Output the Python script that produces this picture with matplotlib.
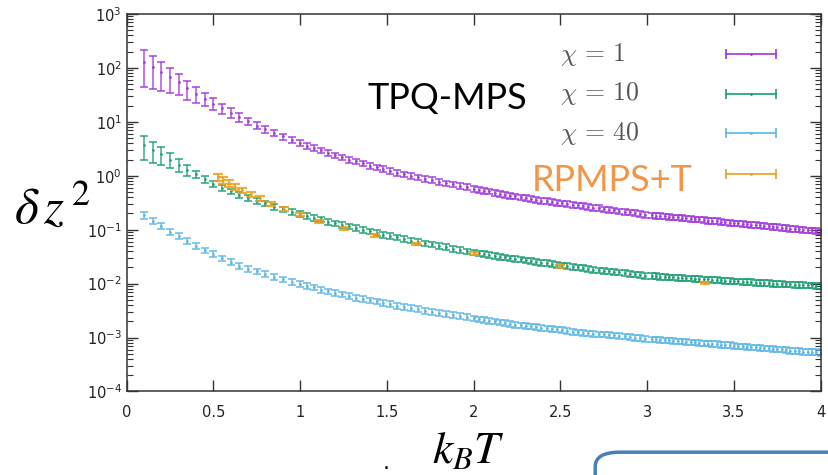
import numpy as np
import matplotlib
matplotlib.use("Agg")
import matplotlib.pyplot as plt
from matplotlib.patches import FancyBboxPatch
from matplotlib.ticker import LogLocator, NullFormatter

# temperature grid of the TPQ-MPS data (k_B T)
T = [0.10, 0.15, 0.20, 0.25, 0.30, 0.35, 0.40, 0.45, 0.50, 0.55, 0.60, 0.65, 0.70, 0.75, 0.80,
     0.85, 0.90, 0.95, 1.00,
     1.04, 1.08, 1.12, 1.16, 1.20, 1.24, 1.28, 1.32, 1.36, 1.40, 1.44, 1.48, 1.52, 1.56, 1.60,
     1.64, 1.68, 1.72, 1.76, 1.80, 1.84, 1.88, 1.92, 1.96, 2.00,
     2.03, 2.06, 2.09, 2.12, 2.15, 2.18, 2.21, 2.24, 2.27, 2.30, 2.33, 2.36, 2.39, 2.42, 2.45,
     2.48, 2.51, 2.54, 2.57, 2.60, 2.63, 2.66, 2.69, 2.72, 2.75, 2.78, 2.81, 2.84, 2.87, 2.90,
     2.93, 2.96, 2.99,
     3.025, 3.05, 3.075, 3.10, 3.125, 3.15, 3.175, 3.20, 3.225, 3.25, 3.275, 3.30, 3.325, 3.35,
     3.375, 3.40, 3.425, 3.45, 3.475, 3.50, 3.525, 3.55, 3.575, 3.60, 3.625, 3.65, 3.675, 3.70,
     3.725, 3.75, 3.775, 3.80, 3.825, 3.85, 3.875, 3.90, 3.925, 3.95, 3.975, 4.00]

# log10(delta z^2) for chi = 1, 10, 40
log_chi1 = [2.11, 2.01, 1.92, 1.83, 1.74, 1.62, 1.52, 1.43, 1.34, 1.25, 1.17, 1.09, 1.01, 0.93, 0.86,
            0.79, 0.73, 0.67, 0.61,
            0.56, 0.52, 0.47, 0.43, 0.38, 0.34, 0.30, 0.27, 0.23, 0.19, 0.16, 0.13, 0.09, 0.06, 0.03,
            0.00, -0.03, -0.06, -0.08, -0.11, -0.14, -0.16, -0.19, -0.21, -0.24,
            -0.26, -0.28, -0.29, -0.31, -0.33, -0.35, -0.37, -0.38, -0.40, -0.41, -0.43, -0.44, -0.46,
            -0.47, -0.48, -0.50, -0.51, -0.52, -0.54, -0.55, -0.56, -0.58, -0.59, -0.60, -0.62, -0.63,
            -0.64, -0.66, -0.67, -0.68, -0.69, -0.70, -0.72,
            -0.73, -0.74, -0.74, -0.75, -0.76, -0.77, -0.77, -0.78, -0.79, -0.80, -0.81, -0.81, -0.82,
            -0.83, -0.84, -0.84, -0.85, -0.86, -0.87, -0.88, -0.88, -0.89, -0.90, -0.91, -0.91, -0.92,
            -0.93, -0.94, -0.95, -0.95, -0.96, -0.97, -0.98, -0.98, -0.99, -1.00, -1.01, -1.01, -1.02,
            -1.03]
log_chi10 = [0.57, 0.48, 0.40, 0.30, 0.20, 0.11, 0.03, -0.06, -0.15, -0.22, -0.29, -0.35, -0.41, -0.46,
             -0.51, -0.57, -0.62, -0.67, -0.71,
             -0.74, -0.78, -0.81, -0.85, -0.88, -0.91, -0.94, -0.97, -1.00, -1.03, -1.06, -1.09, -1.11,
             -1.14, -1.17, -1.20, -1.22, -1.25, -1.27, -1.30, -1.32, -1.35, -1.37, -1.40, -1.42,
             -1.44, -1.45, -1.47, -1.48, -1.50, -1.51, -1.53, -1.54, -1.55, -1.57, -1.58, -1.59, -1.61,
             -1.62, -1.63, -1.65, -1.66, -1.67, -1.69, -1.70, -1.71, -1.72, -1.74, -1.75, -1.76, -1.77,
             -1.78, -1.79, -1.80, -1.82, -1.83, -1.84, -1.85,
             -1.86, -1.86, -1.87, -1.87, -1.88, -1.88, -1.89, -1.89, -1.90, -1.90, -1.91, -1.91, -1.92,
             -1.92, -1.93, -1.93, -1.94, -1.95, -1.95, -1.96, -1.96, -1.97, -1.97, -1.97, -1.98, -1.98,
             -1.99, -1.99, -2.00, -2.00, -2.00, -2.01, -2.01, -2.02, -2.02, -2.02, -2.03, -2.03, -2.04,
             -2.04]
log_chi40 = [-0.73, -0.84, -0.93, -1.04, -1.12, -1.21, -1.30, -1.38, -1.45, -1.53, -1.60, -1.67, -1.73,
             -1.77, -1.82, -1.87, -1.92, -1.97, -2.00,
             -2.04, -2.07, -2.11, -2.14, -2.17, -2.20, -2.23, -2.26, -2.28, -2.31, -2.33, -2.36, -2.38,
             -2.41, -2.43, -2.45, -2.47, -2.50, -2.52, -2.54, -2.56, -2.58, -2.60, -2.62, -2.64,
             -2.66, -2.67, -2.69, -2.70, -2.72, -2.73, -2.74, -2.76, -2.77, -2.78, -2.79, -2.80, -2.82,
             -2.83, -2.84, -2.85, -2.86, -2.88, -2.89, -2.90, -2.91, -2.92, -2.93, -2.94, -2.94, -2.95,
             -2.96, -2.97, -2.98, -2.99, -3.00, -3.01, -3.02,
             -3.03, -3.03, -3.04, -3.05, -3.05, -3.06, -3.07, -3.07, -3.08, -3.09, -3.09, -3.10, -3.11,
             -3.11, -3.12, -3.12, -3.13, -3.14, -3.14, -3.15, -3.16, -3.16, -3.17, -3.18, -3.18, -3.19,
             -3.20, -3.20, -3.21, -3.22, -3.22, -3.23, -3.24, -3.24, -3.25, -3.26, -3.26, -3.27, -3.27,
             -3.28]

# relative error of the low-T points (rest ~12%)
rel_chi1 = [0.65, 0.60, 0.55, 0.49, 0.42, 0.38, 0.33, 0.26, 0.25, 0.22, 0.20, 0.18, 0.16, 0.15,
            0.14, 0.13, 0.13, 0.12, 0.12]
rel_chi10 = [0.48, 0.43, 0.38, 0.30, 0.27, 0.22, 0.16, 0.14, 0.13, 0.12, 0.12, 0.12, 0.12, 0.12,
             0.12, 0.12, 0.12, 0.12, 0.12]
rel_chi40 = [0.14, 0.13, 0.13, 0.13, 0.13, 0.13, 0.12, 0.12, 0.12, 0.12, 0.12, 0.12, 0.12, 0.12,
             0.12, 0.12, 0.12, 0.12, 0.12]
rel_rest = 0.12

# RPMPS+T
T_rp = [3.333, 2.5, 2.0, 1.667, 1.429, 1.25, 1.111, 1.0, 0.909, 0.833, 0.769, 0.714, 0.667,
        0.625, 0.588, 0.556, 0.526]
log_rp = [-1.99, -1.68, -1.44, -1.26, -1.10, -0.97, -0.84, -0.72, -0.62, -0.52, -0.42, -0.34,
          -0.27, -0.20, -0.14, -0.08, -0.02]
rel_rp = [0.05, 0.05, 0.05, 0.05, 0.06, 0.06, 0.07, 0.07, 0.08, 0.08, 0.09, 0.10, 0.11, 0.12,
          0.13, 0.14, 0.15]

labels = [r'$\chi\,=\,1$', r'$\chi\,=\,10$', r'$\chi\,=\,40$']
colors = ['#9f36dc', '#1a9e74', '#5ab6e6']
rp_color = '#e8a020'

plt.rcParams['mathtext.fontset'] = 'cm'

fig = plt.figure(figsize=(8.29, 4.75), dpi=100)
ax = fig.add_axes([0.1528, 0.1758, 0.8372, 0.7947])

n = len(T)
for logv, rel, c in zip([log_chi1, log_chi10, log_chi40], [rel_chi1, rel_chi10, rel_chi40], colors):
    y = 10 ** np.array(logv)
    r = np.array(rel + [rel_rest] * (n - len(rel)))
    ax.errorbar(T, y, yerr=y * r, fmt='.', ms=2, color=c, ecolor=c, elinewidth=1.1,
                capsize=2.8, capthick=1.2, alpha=0.85)

y_rp = 10 ** np.array(log_rp)
ax.errorbar(T_rp, y_rp, yerr=y_rp * np.array(rel_rp), fmt='.', ms=2, color=rp_color,
            ecolor=rp_color, elinewidth=1.4, capsize=3.5, capthick=1.6, alpha=0.85, zorder=4)

ax.set_yscale('log')
ax.set_xlim(0, 4)
ax.set_ylim(1e-4, 1e3)
ax.set_xticks([0, 0.5, 1, 1.5, 2, 2.5, 3, 3.5, 4])
ax.set_xticklabels(['0', '0.5', '1', '1.5', '2', '2.5', '3', '3.5', '4'])
ax.yaxis.set_major_locator(LogLocator(base=10, numticks=12))
ax.yaxis.set_minor_locator(LogLocator(base=10, subs=np.arange(2, 10), numticks=12))
ax.yaxis.set_minor_formatter(NullFormatter())
ax.tick_params(which='both', direction='in', top=True, right=True, colors='#333333',
               labelsize=10.5, labelcolor='#222222')
ax.tick_params(which='major', length=8, width=1)
ax.tick_params(which='minor', length=4, width=0.8)
ax.tick_params(axis='x', pad=10)
for s in ax.spines.values():
    s.set_color('#333333')
    s.set_linewidth(1.1)

# gnuplot style key
key_y = [0.894, 0.789, 0.684, 0.576]
for i, (lab, c) in enumerate(zip(labels, colors)):
    ax.text(0.625, key_y[i], lab, transform=ax.transAxes, fontsize=18.5, color='#555555',
            va='center', ha='left')
for i, c in enumerate(colors + [rp_color]):
    ax.plot([0.864, 0.936], [key_y[i], key_y[i]], transform=ax.transAxes, color=c, lw=1.2,
            marker='|', ms=7, mew=1.2)
    ax.plot([0.900], [key_y[i]], transform=ax.transAxes, color=c, marker='.', ms=2)

fig.text(0.443, 0.793, 'TPQ-MPS', fontsize=26, family='Lato', color='black', va='center')
fig.text(0.641, 0.62, 'RPMPS+T', fontsize=26, family='Lato', color='#f0954a', va='center')

fig.text(0.017, 0.562, r'$\delta\,z^{\,2}$', fontsize=37, color='black', va='center',
         math_fontfamily='stix')
fig.text(0.521, 0.052, r'$k_BT$', fontsize=33, color='black', va='center',
         math_fontfamily='stix')
fig.text(0.462, 0.012, '.', fontsize=16, color='black')

box = FancyBboxPatch((0.718, -0.3), 0.4, 0.348, boxstyle='round,pad=0,rounding_size=0.03',
                     transform=fig.transFigure, fill=False, edgecolor='#4a7ebb', lw=2.5,
                     clip_on=False)
fig.patches.append(box)

fig.savefig('out.png', dpi=100)
